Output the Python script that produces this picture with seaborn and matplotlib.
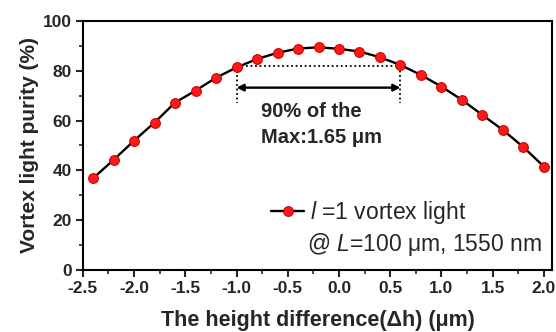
import numpy as np
import pandas as pd
import matplotlib
matplotlib.use("Agg")
import matplotlib.pyplot as plt
import seaborn as sns
from matplotlib.ticker import MultipleLocator
from matplotlib.lines import Line2D

# Data
dh = [-2.4, -2.2, -2.0, -1.8, -1.6, -1.4, -1.2, -1.0, -0.8, -0.6, -0.4, -0.2,
      0.0, 0.2, 0.4, 0.6, 0.8, 1.0, 1.2, 1.4, 1.6, 1.8, 2.0]
purity = [36.8, 44.2, 51.9, 59.2, 67.2, 72.0, 77.2, 81.3, 84.7, 87.2, 88.9, 89.4,
          88.8, 87.7, 85.4, 82.3, 78.3, 73.6, 68.3, 62.2, 56.2, 49.3, 41.5]
span_left, span_right, span_level = -1.0, 0.6, 81.8
xticks = [-2.5, -2.0, -1.5, -1.0, -0.5, 0.0, 0.5, 1.0, 1.5, 2.0]
yticks = [0, 20, 40, 60, 80, 100]

sns.set_style("ticks")
plt.rcParams['font.family'] = ['Liberation Sans', 'DejaVu Sans']
plt.rcParams['mathtext.fontset'] = 'custom'
plt.rcParams['mathtext.it'] = 'Liberation Sans:italic'
plt.rcParams['mathtext.rm'] = 'Liberation Sans'

fig = plt.figure(figsize=(5.56, 3.32), dpi=100)
ax = fig.add_axes([0.149, 0.187, 0.844, 0.750])

df = pd.DataFrame({"dh": dh, "purity": purity})
sns.lineplot(data=df, x="dh", y="purity", ax=ax, color="black", lw=1.7,
             marker="o", markersize=7, markerfacecolor="#ff1a1a",
             markeredgecolor="#d00000", markeredgewidth=0.8, zorder=3)

# dotted guide lines
ax.plot([span_left, span_right], [span_level, span_level], ls=(0, (1, 1.5)), color="black", lw=1.3, zorder=2)
ax.plot([span_left, span_left], [span_level, 67], ls=(0, (1, 1.5)), color="black", lw=1.3, zorder=2)
ax.plot([span_right, span_right], [span_level, 67], ls=(0, (1, 1.5)), color="black", lw=1.3, zorder=2)
ax.annotate("", xy=(span_left, 73.2), xytext=(span_right, 73.2),
            arrowprops=dict(arrowstyle="<|-|>", color="black", lw=1.7,
                            mutation_scale=10, shrinkA=0, shrinkB=0))
ax.text(-0.76, 63.6, "90% of the", fontsize=14.5, fontweight="bold", va="center", ha="left")
ax.text(-0.76, 53.0, "Max:1.65 \u03bcm", fontsize=14.5, fontweight="bold", va="center", ha="left")

# legend
h = Line2D([], [], color="black", lw=1.7, marker="o", markersize=7,
           markerfacecolor="#ff1a1a", markeredgecolor="#d00000", markeredgewidth=0.8)
ax.legend([h], [r"$\it{l}$ =1 vortex light"], loc="center left",
          bbox_to_anchor=(0.402, 0.229), frameon=False, fontsize=16.5,
          handlelength=1.4, handletextpad=0.3, borderpad=0, borderaxespad=0)
ax.text(-0.31, 10.2, "@ $\\it{L}$=100 \u03bcm, 1550 nm",
        fontsize=16.5, va="center", ha="left")

ax.set_xlim(-2.5, 2.08)
ax.set_ylim(0, 100)
ax.set_xticks(xticks)
ax.set_yticks(yticks)
ax.set_xticklabels([f"{t:.1f}" for t in xticks])
ax.xaxis.set_minor_locator(MultipleLocator(0.25))
ax.yaxis.set_minor_locator(MultipleLocator(10))
ax.tick_params(axis="both", which="major", direction="out", length=5, width=1.5,
               labelsize=12.5, pad=3, top=False, right=False)
ax.tick_params(axis="both", which="minor", direction="out", length=3, width=1.2,
               top=False, right=False)
for lab in ax.get_xticklabels() + ax.get_yticklabels():
    lab.set_fontweight("bold")
for sp in ax.spines.values():
    sp.set_visible(True)
    sp.set_linewidth(1.5)
    sp.set_color("black")

ax.set_xlabel("The height difference(\u0394h) (\u03bcm)", fontsize=15.5, fontweight="bold", labelpad=10)
ax.set_ylabel("Vortex light purity (%)", fontsize=15, fontweight="bold", labelpad=3)

fig.savefig("out.png", dpi=100)
